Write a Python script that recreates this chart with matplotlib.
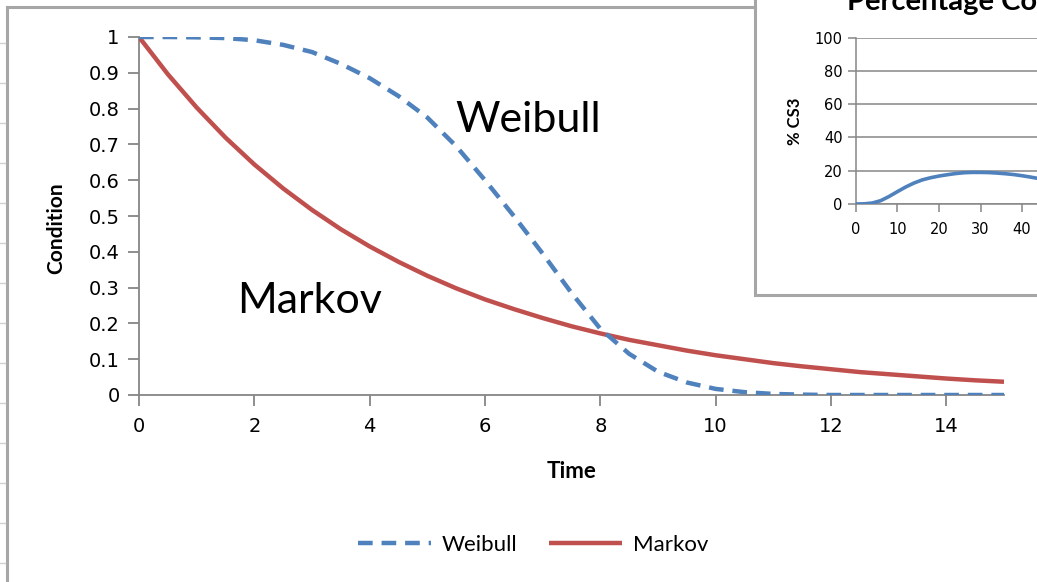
import matplotlib
matplotlib.use("Agg")
import matplotlib.pyplot as plt
from matplotlib.patches import Rectangle
from matplotlib.lines import Line2D

# main chart: condition vs time (at half-year steps)
time = [0, 0.5, 1, 1.5, 2, 2.5, 3, 3.5, 4, 4.5, 5, 5.5, 6, 6.5, 7, 7.5,
        8, 8.5, 9, 9.5, 10, 10.5, 11, 11.5, 12, 12.5, 13, 13.5, 14, 14.5, 15]
weibull = [1.0, 1.0, 0.999, 0.997, 0.991, 0.978, 0.958, 0.925, 0.885, 0.835,
           0.775, 0.695, 0.60, 0.50, 0.395, 0.285, 0.185, 0.115, 0.065, 0.035,
           0.017, 0.008, 0.003, 0.001, 0.0, 0.0, 0.0, 0.0, 0.0, 0.0, 0.0]
markov = [1.0, 0.896, 0.803, 0.719, 0.644, 0.577, 0.517, 0.463, 0.415, 0.372,
          0.333, 0.298, 0.267, 0.240, 0.215, 0.192, 0.172, 0.154, 0.139, 0.124,
          0.111, 0.100, 0.089, 0.080, 0.072, 0.064, 0.058, 0.052, 0.046, 0.041,
          0.037]

# inset chart: % in condition state 3
cs3_time = [0, 2, 4, 6, 8, 10, 12, 14, 16, 18, 20, 22, 24, 26, 28, 30, 32,
            34, 36, 38, 40, 42, 44, 46]
cs3_pct = [0, 0.1, 0.6, 2.0, 4.5, 7.4, 10.2, 12.6, 14.5, 15.8, 16.8, 17.6,
           18.3, 18.8, 19.0, 19.0, 18.9, 18.6, 18.2, 17.7, 17.0, 16.2, 15.3, 14.4]

BLUE = "#4F81BD"
RED = "#C0504D"
AXIS = "#868686"
FONT = "Lato"
W, H = 1037, 582

fig = plt.figure(figsize=(W / 100, H / 100), dpi=100)

# outer chart border (only left/top visible)
fig.add_artist(Line2D([7 / W, 7 / W], [0, 1 - 7 / H], color="#a6a6a6", lw=2.2))
fig.add_artist(Line2D([7 / W, 755 / W], [1 - 7 / H, 1 - 7 / H], color="#a6a6a6", lw=2.2))
for yy in range(43, 582, 40):
    fig.add_artist(Line2D([0, 5 / W], [1 - yy / H, 1 - yy / H], color="#d0d0d0", lw=1))

ax = fig.add_axes([139 / W, 1 - 395 / H, 865 / W, 358 / H])
ax.plot(time, markov, color=RED, lw=3.2, solid_capstyle="butt", label="Markov", zorder=3)
ax.plot(time, weibull, color=BLUE, lw=3.2, dashes=(3.3, 2.0), label="Weibull", zorder=4)
ax.set_xlim(0, 15)
ax.set_ylim(0, 1)
ax.set_xticks(range(0, 16, 2))
ax.set_yticks([i / 10 for i in range(11)])
ax.set_yticklabels(["0", "0.1", "0.2", "0.3", "0.4", "0.5", "0.6", "0.7", "0.8", "0.9", "1"])
for s in ["top", "right"]:
    ax.spines[s].set_visible(False)
for s in ["left", "bottom"]:
    ax.spines[s].set_color(AXIS)
    ax.spines[s].set_linewidth(1.3)
ax.tick_params(axis="both", colors=AXIS, length=8, width=1.3, labelcolor="black",
               labelsize=14)
ax.tick_params(axis="x", pad=8)
ax.tick_params(axis="y", pad=6)
ax.set_xlabel("Time", fontfamily=FONT, fontweight="bold", fontsize=16, labelpad=18)
ax.set_ylabel("Condition", fontfamily=FONT, fontweight="bold", fontsize=15)
ax.yaxis.set_label_coords(-0.084, 0.466)
ax.text(5.48, 0.735, "Weibull", fontfamily=FONT, fontsize=31)
ax.text(1.70, 0.229, "Markov", fontfamily=FONT, fontsize=31)

handles = [ax.lines[1], ax.lines[0]]
fig.legend(handles, ["Weibull", "Markov"], loc="center", bbox_to_anchor=(533 / W, 37 / H),
           ncol=2, frameon=False, prop={"family": FONT, "size": 16},
           handlelength=3.3, handletextpad=0.5, columnspacing=1.4)

# inset chart box
fig.add_artist(Rectangle((755 / W, 1 - 295 / H), 400 / W, 400 / H, facecolor="white",
                         edgecolor="#a6a6a6", lw=2.2, zorder=1))

ins = fig.add_axes([855.7 / W, 1 - 204 / H, 249.6 / W, 166.3 / H], zorder=2)
ins.plot(cs3_time, cs3_pct, color=BLUE, lw=2.6, zorder=3)
ins.set_xlim(0, 60)
ins.set_ylim(0, 100)
ins.set_xticks(range(0, 50, 10))
ins.set_yticks(range(0, 120, 20))
ins.grid(axis="y", color=AXIS, lw=1.1)
for s in ["top", "right"]:
    ins.spines[s].set_visible(False)
for s in ["left", "bottom"]:
    ins.spines[s].set_color(AXIS)
    ins.spines[s].set_linewidth(1.1)
ins.tick_params(axis="both", colors=AXIS, length=6, width=1.1, labelcolor="black",
                labelsize=10.5)
ins.tick_params(axis="x", pad=7)
ins.set_ylabel("% CS3", fontfamily=FONT, fontweight="bold", fontsize=12, labelpad=8)
fig.text(847 / W, 1 - 10 / H, "Percentage Condition State 3", fontfamily=FONT,
         fontweight="bold", fontsize=21, va="baseline", ha="left", zorder=3)

fig.savefig("out.png", dpi=100)
